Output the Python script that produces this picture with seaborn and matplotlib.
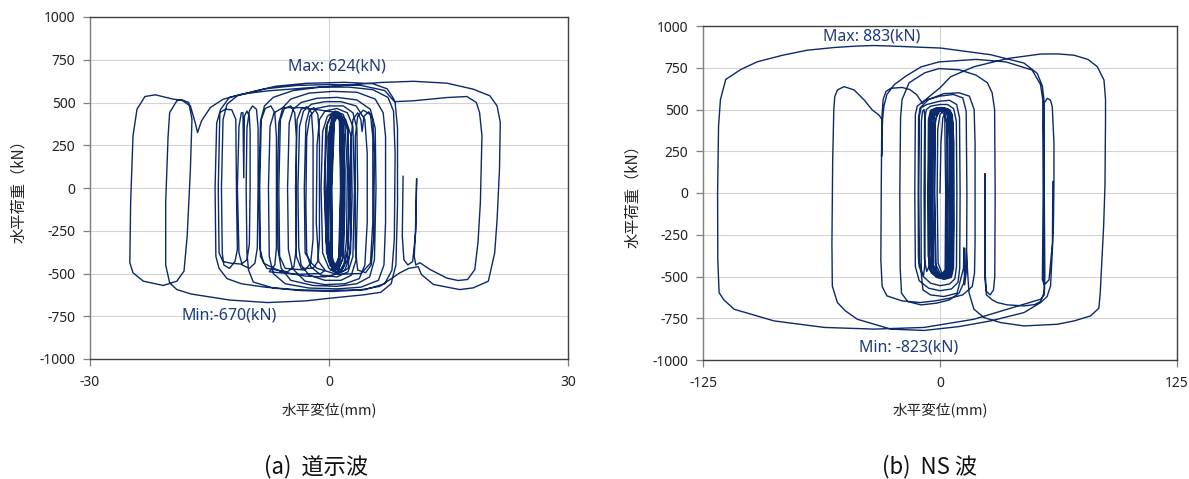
import numpy as np
import pandas as pd
import matplotlib
matplotlib.use("Agg")
import matplotlib.pyplot as plt
import seaborn as sns

# ---------------- data: (a) 道示波  (displacement mm, load kN) ----------------
a_core = [
    (0.0, 0), (0.2, 300), (0.6, 400), (1.2, 420), (1.6, 370), (1.7, 0), (1.5, -350), (1.0, -450), (0.3, -440), (-0.1, -300),
    (0.0, 100), (0.3, 380), (0.9, 430), (1.4, 400), (1.6, 200), (1.5, -300), (1.1, -460), (0.5, -480), (-0.1, -420), (-0.3, -100),
    (-0.1, 300), (0.4, 420), (1.0, 440), (1.8, 390), (2.0, 100), (1.8, -320), (1.3, -450), (0.6, -470), (0.0, -400), (-0.2, 0),
    (0.1, 350), (0.7, 430), (1.5, 420), (2.3, 350), (2.6, 0), (2.4, -350), (1.8, -470), (0.9, -490), (0.1, -450), (-0.4, -300),
    (-0.5, 100), (-0.2, 380), (0.5, 440), (1.3, 430), (1.9, 300), (2.0, -100), (1.8, -400), (1.2, -480), (0.4, -470), (-0.3, -380),
    (-0.6, 0), (-0.4, 350), (0.3, 430), (1.1, 445), (2.1, 400), (2.8, 300), (2.9, -50), (2.7, -380), (2.0, -480), (1.0, -500),
    (0.0, -470), (-0.8, -380), (-1.0, 0), (-0.8, 330), (-0.2, 420), (0.8, 450), (1.8, 430), (2.4, 330), (2.5, -100), (2.3, -420),
    (1.6, -480), (0.8, -470), (0.4, -400), (0.3, 0), (0.6, 380), (1.2, 430), (1.7, 380), (1.9, 0), (1.7, -420), (1.2, -470),
    (0.6, -460), (0.2, -380), (0.1, 0), (0.4, 390), (0.9, 420), (1.4, 390), (1.5, 0), (1.3, -400), (0.8, -450), (0.3, -420),
    (0.2, 0), (0.5, 400), (1.1, 435), (1.6, 400), (1.75, 0), (1.6, -380), (1.0, -455), (0.4, -430), (0.35, 0), (0.7, 410),
    (1.3, 420), (1.45, 0), (1.2, -430), (0.6, -460),
]
a_mid = [
    (0.2, -480), (1.5, -495), (2.4, -470), (2.7, -300), (2.7, 250), (3.0, 400), (3.6, 440), (4.0, 400), (4.15, 330), (4.4, 420),
    (5.0, 445), (5.5, 400), (5.7, 200), (5.6, -300), (5.3, -450), (4.6, -495), (3.6, -480), (3.3, -350), (3.3, 300), (3.6, 420),
    (4.3, 455), (5.2, 430), (5.5, 300), (5.5, -200), (5.2, -440), (4.0, -500), (1.0, -505),
    (-1.5, -470), (-2.2, -440), (-3.0, -380), (-3.1, 0), (-2.9, 380), (-2.5, 450), (-1.9, 470), (-1.4, 430), (-1.2, 300),
    (-1.2, -300), (-1.4, -430), (-2.0, -470), (-3.5, -470), (-4.1, -400), (-4.2, 0), (-4.0, 400), (-3.5, 460), (-2.8, 475),
    (-2.2, 440), (-2.0, 300), (-2.0, -300), (-2.3, -440), (-3.0, -480), (-5.5, -470), (-6.2, -400), (-6.3, 0), (-6.1, 400),
    (-5.6, 465), (-4.8, 480), (-4.3, 440), (-4.1, 300), (-4.1, -350), (-4.4, -460), (-5.2, -490), (-7.8, -470), (-8.6, -400),
    (-8.7, 0), (-8.5, 400), (-8.0, 465), (-7.3, 480), (-6.8, 440), (-6.6, 300), (-6.6, -350), (-6.8, -450), (-7.5, -490),
    (-4.0, -505), (-1.0, -500),
]
a_grow = [
    (-0.5, -480), (-1.3, -430), (-1.6, -200), (-1.5, 250), (-1.2, 400), (-0.5, 450), (1.0, 465), (2.3, 440), (3.0, 360), (3.2, 0),
    (3.0, -400), (2.4, -490), (1.0, -520), (-1.0, -510), (-2.3, -460), (-2.8, -380),
    (-2.9, -100), (-2.8, 300), (-2.4, 420), (-1.6, 465), (0.0, 480), (1.8, 480), (3.0, 440), (3.5, 350), (3.6, 0), (3.4, -420),
    (2.8, -510), (1.5, -540), (-0.5, -540), (-2.5, -510), (-3.5, -450), (-3.8, -350),
    (-3.9, 0), (-3.7, 360), (-3.2, 450), (-2.2, 490), (-0.5, 505), (1.5, 505), (3.4, 480), (4.5, 400), (4.8, 200), (4.8, -200),
    (4.5, -450), (3.8, -530), (2.0, -560), (-0.5, -565), (-3.0, -545), (-4.6, -470), (-5.1, -360),
    (-5.2, 0), (-5.0, 380), (-4.5, 460), (-3.5, 500), (-1.5, 525), (1.0, 530), (3.5, 515), (5.2, 460), (5.8, 350), (5.9, 0),
    (5.7, -420), (5.1, -520), (3.5, -560), (1.0, -575), (-2.0, -570), (-4.8, -540), (-6.0, -470), (-6.4, -360),
    (-6.5, 0), (-6.3, 380), (-5.8, 470), (-4.8, 520), (-2.5, 555), (0.5, 565), (3.5, 560), (5.8, 520), (6.8, 440), (7.1, 300),
    (7.1, -200), (6.9, -450), (6.2, -540), (4.0, -580), (1.0, -590), (-2.5, -585), (-5.5, -560), (-7.0, -500), (-7.5, -400),
    (-7.6, 0), (-7.4, 360), (-6.9, 440), (-5.8, 470), (-3.5, 470), (-1.0, 455), (1.2, 440), (2.0, 380), (2.3, 100), (2.2, -300),
    (1.9, -440), (1.2, -500), (-0.5, -520), (-3.0, -515), (-6.0, -490), (-8.2, -440), (-8.7, -350),
    (-8.8, 0), (-8.6, 390), (-8.1, 480), (-7.0, 530), (-4.5, 570), (-1.0, 590), (2.5, 590), (5.5, 575), (7.4, 530), (8.1, 450),
    (8.3, 200), (8.2, -300), (7.9, -480), (7.0, -560), (4.5, -595), (0.5, -605), (-3.5, -600), (-7.0, -585), (-9.5, -550),
    (-10.1, -480), (-10.3, -380),
]
a_narrow = [
    (-10.4, 0), (-10.3, 350), (-10.0, 450), (-9.6, 480), (-9.1, 460), (-8.9, 350), (-8.9, 0), (-9.0, -350), (-9.3, -440),
    (-10.0, -470), (-10.9, -450), (-11.3, -380),
    (-11.5, 0), (-11.3, 360), (-11.0, 440), (-10.8, 440), (-10.7, 60), (-10.62, 420), (-10.3, 450), (-10.0, 420), (-9.9, 330),
    (-9.9, 0), (-10.0, -330), (-10.3, -420), (-11.0, -445), (-12.3, -440), (-13.3, -430), (-13.8, -380),
    (-13.9, 0), (-13.7, 441), (-13.0, 461), (-12.2, 457), (-11.7, 402), (-11.6, -86), (-11.5, -359), (-11.8, -430),
    (-12.5, -470), (-13.2, -450), (-13.4, -380),
]
a_big = [
    (-13.5, 0), (-13.3, 400), (-12.8, 490), (-11.5, 540), (-8.0, 580), (-4.0, 600), (0.0, 605), (4.0, 600), (7.0, 570),
    (8.3, 500), (8.6, 350), (8.6, -100), (8.4, -450), (7.8, -560), (6.5, -610), (4.3, -625), (0.0, -645), (-2.9, -660),
    (-7.7, -670), (-12.5, -655), (-17.3, -620), (-19.1, -594), (-20.0, -555), (-20.5, -450), (-20.5, -86), (-20.2, 300),
    (-20.0, 441), (-19.1, 510), (-18.5, 516), (-17.6, 500), (-17.2, 402), (-17.4, 109), (-17.8, -281), (-18.2, -486),
    (-19.1, -545), (-20.8, -570), (-23.3, -545), (-24.6, -496), (-25.0, -437), (-24.9, -86), (-24.6, 305), (-24.1, 461),
    (-23.1, 535), (-21.8, 545), (-19.5, 519), (-18.5, 514), (-17.4, 480), (-16.8, 383), (-16.5, 324), (-16.0, 393),
    (-14.9, 470), (-13.3, 519), (-10.8, 550), (-7.7, 568), (-2.9, 585), (1.9, 600), (6.4, 617), (10.6, 624), (14.8, 613),
    (18.1, 578), (20.2, 539), (21.1, 480), (21.5, 383), (21.4, 109), (21.1, -184), (20.8, -379), (20.0, -545), (18.1, -584),
    (16.4, -594), (13.1, -564), (11.6, -506), (11.2, -460), (10.0, -470), (8.9, -496), (7.5, -540), (6.4, -575), (4.0, -595),
    (0.0, -600), (-4.0, -595), (-8.0, -580), (-11.0, -560), (-12.8, -530), (-13.8, -470), (-14.2, -400),
]
a_end = [
    (-14.3, 0), (-14.1, 380), (-13.6, 460), (-12.5, 530), (-9.0, 570), (-6.7, 595), (-2.9, 612), (1.9, 618), (5.5, 610),
    (7.3, 580), (8.0, 530), (8.3, 505), (10.6, 510), (14.8, 529), (17.3, 535), (18.5, 500), (18.9, 441), (19.2, 305),
    (19.0, -86), (18.7, -320), (18.3, -477), (17.4, -535), (16.2, -541), (14.8, -527), (12.7, -477), (11.4, -437),
    (10.9, -450), (10.7, -400), (10.85, -250), (11.0, 55), (10.9, -250), (10.5, -430), (9.9, -450), (9.4, -420),
    (9.2, -281), (9.3, 70),
]

# ---------------- data: (b) NS 波 ----------------
b_core = [
    (0, 0), (0.5, 300), (1.5, 450), (3, 490), (4.5, 470), (5.2, 300), (5.3, -200), (5, -430), (3.5, -490), (1, -480), (-1, -420), (-1.5, 0),
    (-1.2, 380), (0, 470), (2, 495), (4, 490), (5.8, 420), (6.2, 0), (6, -400), (5, -480), (2.5, -500), (0, -480), (-2.5, -420), (-3, 0),
    (-2.7, 400), (-1.5, 480), (1, 500), (3.5, 500), (6, 460), (7, 300), (7.1, -200), (6.8, -440), (5.5, -500), (2, -510), (-1.5, -490), (-3.5, -430),
    (-4.2, 0), (-3.9, 400), (-2.5, 485), (0, 505), (3, 505), (5.5, 480), (6.5, 380), (6.6, -100), (6.3, -430), (5, -495), (2, -505), (-1, -490),
    (-4, -440), (-5.5, -380), (-6, 0), (-5.7, 420), (-4.5, 490), (-2, 505), (1, 510), (4, 505), (6.5, 470), (7.3, 300), (7.4, -200), (7.1, -450),
    (6, -505), (3, -515), (0, -510), (-3, -480), (-4.5, -400), (-5.2, 0), (-4.8, 430), (-3, 495), (0, 500), (3, 495), (4.8, 440), (5.2, 0),
    (4.9, -440), (3, -500), (0, -500), (-3, -470), (-4.5, -400), (-4.8, 0), (-4.3, 440), (-2, 500), (1, 505), (3.8, 480), (4.4, 0),
    (4.1, -450), (2, -500), (-1, -495), (-3.5, -440), (-3.8, 0), (-3.4, 450), (-1, 500), (2, 500), (3.5, 420), (3.7, 0), (3.4, -460),
    (1, -500), (-2, -470), (-2.8, 0), (-2.5, 440), (0, 495), (2.5, 470), (3, 0), (2.7, -460), (0, -500), (-2.2, -450), (-5, -420),
    (-6.2, -380), (-6.4, 0), (-6.1, 440), (-5, 495), (-2, 510), (2, 510), (5.5, 495), (6.8, 420), (7.0, 0), (6.8, -440), (5.8, -500),
    (2, -515), (-2, -505), (-5.5, -460), (-6.0, -380), (-6.1, 0), (-5.8, 430), (-4.5, 495), (0, 505), (4.5, 500), (6.3, 440),
    (6.6, 0), (6.4, -430), (5.4, -480), (5.2, 0), (5.3, 338), (5.2, 0), (5.0, -470), (3, -505), (0, -510), (-4.5, -480),
    (-5.8, -420), (-5.9, 0), (-5.5, 440), (-3, 500), (1, 505), (5, 490), (5.9, 400), (6.0, 0), (5.8, -440), (4.5, -495),
    (0, -505), (-4, -470), (-5, -420),
]
b_grow = [
    (-7, -470), (-8.2, -400), (-8.4, 0), (-8.1, 440), (-7.2, 500), (-5, 520), (0, 530), (4, 530), (7.2, 505), (8.6, 430), (8.9, 0),
    (8.7, -440), (7.8, -515), (5, -545), (0, -555), (-5, -540), (-8.8, -500), (-10.8, -420),
    (-11.2, 0), (-10.9, 460), (-10, 510), (-7, 530), (0, 550), (5, 555), (8.8, 530), (10.3, 450), (10.6, 0), (10.4, -450),
    (9.5, -535), (6, -575), (0, -585), (-6, -570), (-11, -525), (-13, -440),
    (-13.3, 0), (-13.0, 470), (-12, 520), (-8, 555), (0, 580), (7, 590), (12, 570), (13.8, 490), (14.2, 0), (14, -460),
    (13, -550), (12.8, -450), (12.6, -328), (12.4, -450), (9, -600), (2, -620), (-5, -610), (-9, -580), (-9.9, -480),
    (-10, 0), (-9.8, 430), (-9.2, 490), (-8.4, 500), (-7.9, 440), (-7.8, 0), (-8.0, -430), (-8.6, -490), (-9.6, -480),
    (-11.0, -440), (-11.4, -380),
    (-11.5, 0), (-11.3, 450), (-10.5, 510), (-6, 560), (2, 595), (10, 600), (15.5, 580), (18, 500), (18.5, 300), (18.5, -300),
    (18.2, -480), (17, -560), (12, -610), (5, -630), (-2, -645),
]
b_big = [
    (-10.4, -656), (-20, -646), (-28, -616), (-30.5, -560), (-31.2, -400), (-31.0, 0), (-30.7, 440), (-30.0, 560), (-28.5, 608),
    (-26, 627), (-20, 632), (-16, 620), (-12.4, 590), (-10, 550), (-9.4, 537), (-7, 565), (-3.2, 600), (0, 630), (5.6, 696),
    (17.9, 756), (35.5, 805), (53, 832), (62, 833), (70.7, 825), (78, 800), (83, 756), (86.5, 676), (87.3, 560), (87.3, 438),
    (87, 40), (86.3, -200), (85.6, -358), (84.5, -600), (83.8, -690), (79.4, -736), (70.7, -766), (61.9, -786), (44.3, -796),
    (32, -776), (23.2, -746), (17.9, -696), (15.3, -597), (14.6, -480), (13.8, -330), (13.6, -450), (12.5, -540), (10, -600),
    (5, -640), (-2, -660), (-10, -670), (-17, -650), (-20.3, -600), (-21, -450), (-21.2, 0), (-20.8, 450), (-20, 560),
    (-16.3, 660), (-8, 720), (-0.6, 745), (10, 738), (19, 706), (25, 660), (27.5, 600), (28.8, 500), (29.1, 0), (28.9, -500),
    (28.2, -580), (26.5, -610), (24.5, -590), (23.9, -500), (23.7, 116), (23.6, -500), (24.5, -610), (27.6, -640),
    (30.2, -656), (35.5, -670), (44.3, -676), (50, -668), (53, -650), (54.8, -600), (55.3, -500), (55.0, 0), (54.6, 400),
    (54.8, 537), (56.6, 567), (58.3, 555), (59.2, 517), (60.1, 300), (60.1, 60), (59.8, -200), (59.2, -358), (58.3, -557),
    (56.5, -620), (53.1, -656),
]
b_end = [
    (44.3, -716), (26.7, -766), (10, -800), (-8.4, -823), (-26, -815), (-43.6, -756), (-50, -705), (-54.1, -656), (-56.8, -557),
    (-57, -300), (-56.6, 200), (-56.0, 500), (-55.5, 577), (-54.1, 617), (-50.6, 637), (-45.3, 617), (-40, 557), (-35.7, 497),
    (-32.2, 467), (-30.4, 437), (-30.6, 330), (-30.8, 219), (-30.6, 330), (-30.3, 440), (-29.6, 520), (-28, 590), (-24, 650),
    (-18, 700), (-10, 755), (-0.6, 785), (19, 800), (34.8, 785), (48.6, 736), (53.0, 650), (54.2, 560), (54.4, 0),
    (54.0, -517), (55.2, -560), (55.0, -610), (53.1, -636), (35.5, -696), (17.9, -756), (-8.4, -805), (-34.8, -815),
    (-61, -805), (-87.5, -766), (-108.6, -696), (-114, -640), (-116.5, -597), (-117.2, -400), (-117.3, 0), (-116.8, 400),
    (-115.8, 560), (-113, 680), (-105, 740), (-96.3, 786), (-83, 825), (-70, 855), (-55, 872), (-43.6, 880), (-35, 883),
    (-26, 880), (0.4, 868), (26.7, 828), (44.3, 778), (51.3, 716), (54, 640), (54.8, 560), (55.0, 200), (54.7, -300),
    (54.6, -517), (55.5, -545), (57.5, -520), (59.3, -300), (59.5, 70),
]

a_segments = [a_core, a_mid, a_grow, a_narrow, a_big, a_end]
b_segments = [b_core, b_grow, b_big, b_end]

x_ticks_a = [-30, 0, 30]
x_ticks_b = [-125, 0, 125]
y_ticks = [-1000, -750, -500, -250, 0, 250, 500, 750, 1000]

captions = ["(a)  道示波", "(b)  NS 波"]
max_labels = ["Max: 624(kN)", "Max: 883(kN)"]
min_labels = ["Min:-670(kN)", "Min: -823(kN)"]
max_pos = [(1.0, 712), (-36.0, 935)]
min_pos = [(-12.5, -745), (-16.6, -925)]
xlabel = "水平変位(mm)"
ylabel = "水平荷重（kN）"


def to_frame(segs):
    pts = [p for s in segs for p in s]
    return pd.DataFrame({"disp": [p[0] for p in pts], "load": [p[1] for p in pts]})


sns.set_theme(style="white")
plt.rcParams["font.family"] = ["Noto Sans CJK JP", "DejaVu Sans"]
plt.rcParams["axes.unicode_minus"] = False

W, H = 1189, 479
fig = plt.figure(figsize=(W / 100, H / 100), dpi=100)
fig.patch.set_facecolor("white")

axes_px = [(90, 17, 568, 359), (703, 26, 1177, 360)]
line_color = "#0b2a6b"
frames = [to_frame(a_segments), to_frame(b_segments)]
xticks = [x_ticks_a, x_ticks_b]
cap_x = [316, 930]

for i in range(2):
    l, t, r, b = axes_px[i]
    ax = fig.add_axes([l / W, 1 - b / H, (r - l) / W, (b - t) / H])
    ax.set_facecolor("white")
    xt = xticks[i]
    ax.set_xlim(xt[0], xt[-1])
    ax.set_ylim(-1000, 1000)
    ax.set_xticks(xt)
    ax.set_yticks(y_ticks)
    ax.grid(True, color="#d4d4d4", lw=0.8, zorder=0)
    ax.set_axisbelow(True)
    sns.lineplot(data=frames[i], x="disp", y="load", sort=False, estimator=None,
                 ax=ax, color=line_color, lw=1.0, zorder=3)
    for name, s in ax.spines.items():
        s.set_color("#7f7f7f" if name == "left" else "#404040")
        s.set_linewidth(1.0)
    ax.tick_params(axis="both", which="major", direction="out", length=5, width=0.9,
                   color="#7f7f7f", labelsize=10, labelcolor="#222222",
                   left=True, bottom=True)
    ax.tick_params(axis="y", pad=5.5)
    ax.tick_params(axis="x", pad=6.5)
    for lab in ax.get_xticklabels() + ax.get_yticklabels():
        lab.set_fontfamily(["Noto Sans", "DejaVu Sans"])
    ax.set_xlabel(xlabel, fontsize=10.5, color="#222222")
    ax.set_ylabel(ylabel, fontsize=11, color="#222222")
    ax.xaxis.set_label_coords(0.5, -0.126)
    ax.yaxis.set_label_coords(-0.131, 0.5)
    ax.text(max_pos[i][0], max_pos[i][1], max_labels[i], ha="center", va="center",
            fontsize=11.5, color="#1f3a78", family=["Noto Sans", "DejaVu Sans"], zorder=4)
    ax.text(min_pos[i][0], min_pos[i][1], min_labels[i], ha="center", va="center",
            fontsize=11.5, color="#1f3a78", family=["Noto Sans", "DejaVu Sans"], zorder=4)
    fig.text(cap_x[i] / W, 1 - 467 / H, captions[i], ha="center", va="center",
             fontsize=16, color="#111111")

fig.savefig("out.png", dpi=100, facecolor="white")
